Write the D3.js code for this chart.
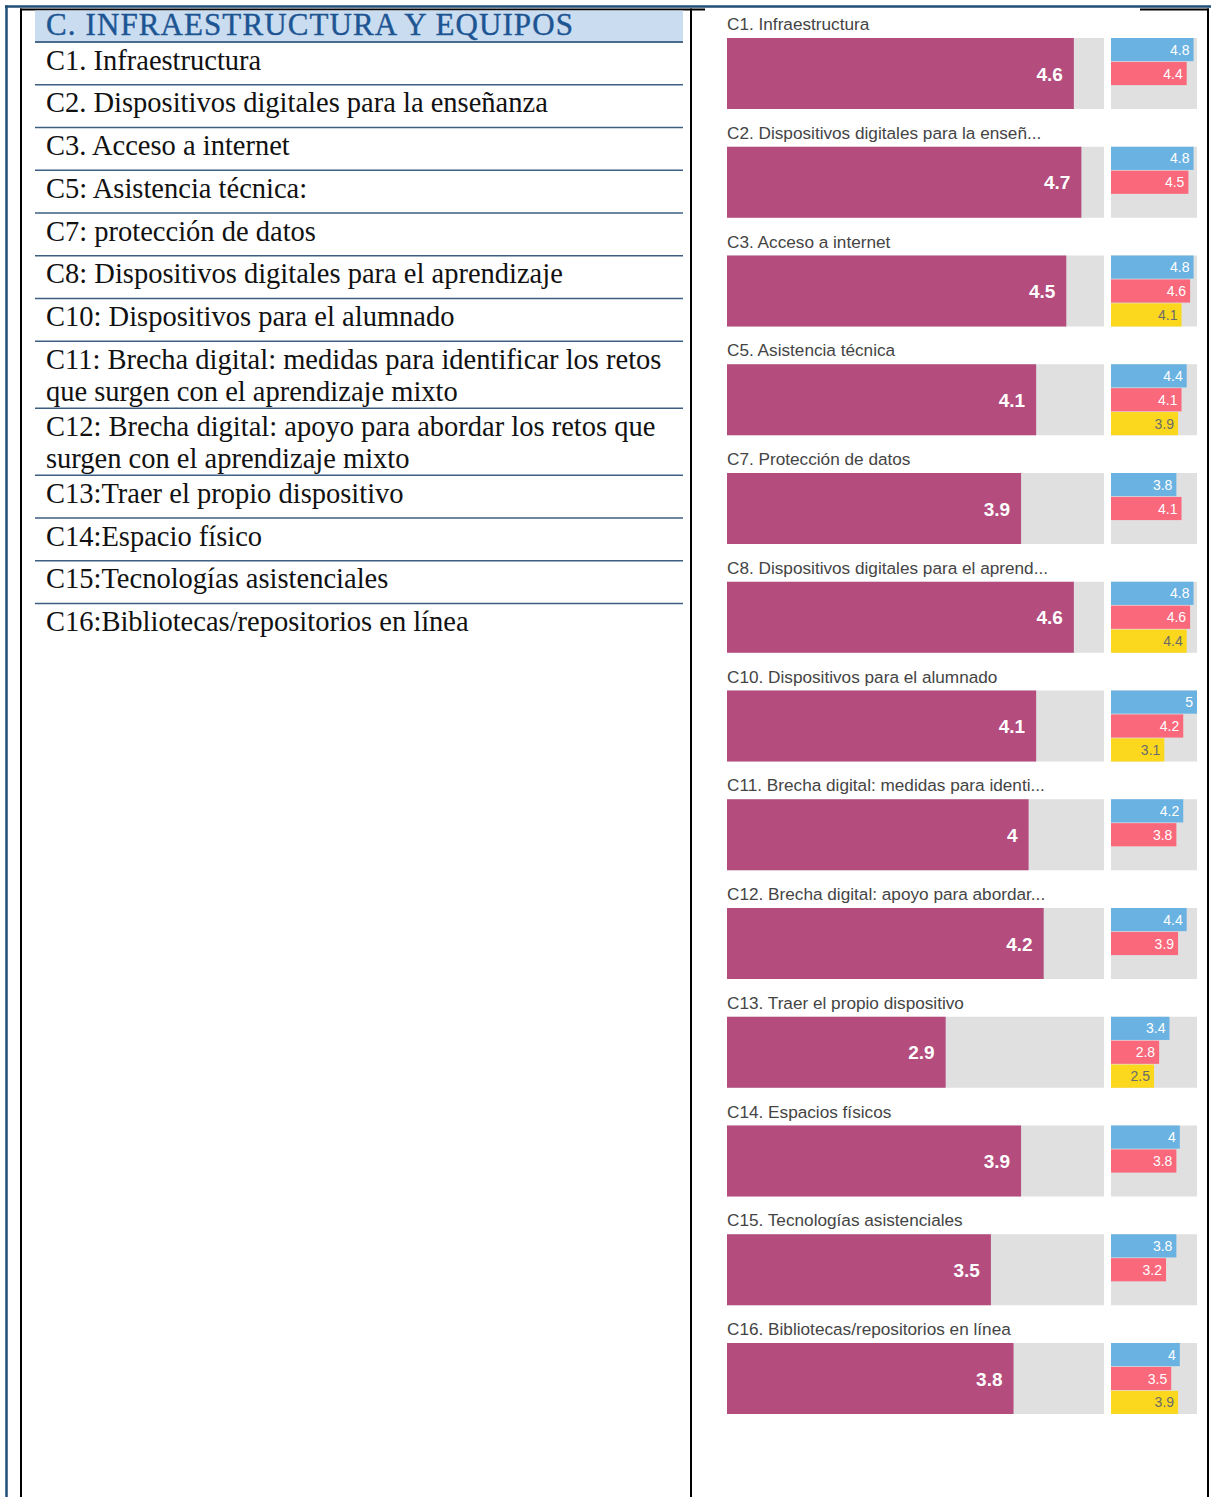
<!DOCTYPE html>
<html>
<head>
<meta charset="utf-8">
<script src="https://cdn.jsdelivr.net/npm/d3@7"></script>
<style>
  html, body { margin: 0; padding: 0; background: #fff; }
  svg { display: block; }
</style>
</head>
<body>
<div id="chart"></div>
<script>
// left table: header + row labels (each row = list of text lines)
const tableHeader = "C. INFRAESTRUCTURA Y EQUIPOS";
const tableRows = [
  ["C1. Infraestructura"],
  ["C2. Dispositivos digitales para la enseñanza"],
  ["C3. Acceso a internet"],
  ["C5: Asistencia técnica:"],
  ["C7: protección de datos"],
  ["C8: Dispositivos digitales para el aprendizaje"],
  ["C10: Dispositivos para el alumnado"],
  ["C11: Brecha digital: medidas para identificar los retos", "que surgen con el aprendizaje mixto"],
  ["C12: Brecha digital: apoyo para abordar los retos que", "surgen con el aprendizaje mixto"],
  ["C13:Traer el propio dispositivo"],
  ["C14:Espacio físico"],
  ["C15:Tecnologías asistenciales"],
  ["C16:Bibliotecas/repositorios en línea"],
];

// right panel: one small chart per item
const chartTitles = [
  "C1. Infraestructura",
  "C2. Dispositivos digitales para la enseñ...",
  "C3. Acceso a internet",
  "C5. Asistencia técnica",
  "C7. Protección de datos",
  "C8. Dispositivos digitales para el aprend...",
  "C10. Dispositivos para el alumnado",
  "C11. Brecha digital: medidas para identi...",
  "C12. Brecha digital: apoyo para abordar...",
  "C13. Traer el propio dispositivo",
  "C14. Espacios físicos",
  "C15. Tecnologías asistenciales",
  "C16. Bibliotecas/repositorios en línea",
];
const overallValues = [4.6, 4.7, 4.5, 4.1, 3.9, 4.6, 4.1, 4.0, 4.2, 2.9, 3.9, 3.5, 3.8];
const blueValues    = [4.8, 4.8, 4.8, 4.4, 3.8, 4.8, 5.0, 4.2, 4.4, 3.4, 4.0, 3.8, 4.0];
const redValues     = [4.4, 4.5, 4.6, 4.1, 4.1, 4.6, 4.2, 3.8, 3.9, 2.8, 3.8, 3.2, 3.5];
const yellowValues  = [null, null, 4.1, 3.9, null, 4.4, 3.1, null, null, 2.5, null, null, 3.9];

const W = 1216, H = 1497;
const mainColor = "#b44c7e";
const trackColor = "#e0e0e0";
const groupColors = { blue: "#6ab2e2", red: "#f9687b", yellow: "#fbd81e" };
const navy = "#1f4e79";

const svg = d3.select("#chart").append("svg").attr("width", W).attr("height", H);

// ---- frame lines ----
const frame = svg.append("g");
frame.append("line").attr("x1", 5).attr("x2", 1211).attr("y1", 6.5).attr("y2", 6.5)
  .attr("stroke", navy).attr("stroke-width", 2.5);
frame.append("line").attr("x1", 6.5).attr("x2", 6.5).attr("y1", 5.5).attr("y2", H)
  .attr("stroke", navy).attr("stroke-width", 2.5);
[[20, 705], [1140, 1209]].forEach(([a, b]) => {
  frame.append("line").attr("x1", a).attr("x2", b).attr("y1", 9.5).attr("y2", 9.5)
    .attr("stroke", "#000").attr("stroke-width", 2);
});
[21, 691, 1208].forEach((x) => {
  frame.append("line").attr("x1", x).attr("x2", x).attr("y1", 8.5).attr("y2", H)
    .attr("stroke", "#000").attr("stroke-width", 2);
});

// ---- left table ----
const table = svg.append("g").attr("font-family", "'Liberation Serif', 'Times New Roman', serif");
const tableX0 = 35, tableX1 = 683, textX = 46;
table.append("rect").attr("x", tableX0).attr("y", 10.5).attr("width", tableX1 - tableX0).attr("height", 31)
  .attr("fill", "#c9dcf0");
table.append("text").attr("x", textX).attr("y", 35).attr("font-size", 31)
  .attr("letter-spacing", 1.1).attr("fill", "#1d5593")
  .attr("stroke", "#1d5593").attr("stroke-width", 0.4).text(tableHeader);

const lineH = 32.5, singleRow = 42.75, doubleRow = 67;
let rowTop = 42;
const rowPositions = tableRows.map((lines) => {
  const top = rowTop;
  rowTop += lines.length === 1 ? singleRow : doubleRow;
  return { lines, top };
});
table.append("line").attr("x1", tableX0).attr("x2", tableX1).attr("y1", 42).attr("y2", 42)
  .attr("stroke", "#4a6b8c").attr("stroke-width", 2);
rowPositions.forEach((r, i) => {
  const bottom = r.top + (r.lines.length === 1 ? singleRow : doubleRow);
  if (i < rowPositions.length - 1) {
    table.append("line").attr("x1", tableX0).attr("x2", tableX1).attr("y1", bottom).attr("y2", bottom)
      .attr("stroke", "#3d5f82").attr("stroke-width", 1.6);
  }
  r.lines.forEach((t, j) => {
    table.append("text").attr("x", textX).attr("y", r.top + 27.5 + j * lineH)
      .attr("font-size", 28.5).attr("fill", "#111").attr("letter-spacing", 0).text(t);
  });
});

// ---- right small multiples ----
const right = svg.append("g").attr("font-family", "'Liberation Sans', Arial, sans-serif");
const xMain = d3.scaleLinear().domain([0, 5]).range([727, 1104]);
const xSmall = d3.scaleLinear().domain([0, 5]).range([1111, 1197]);
const yTop = d3.scaleLinear().domain([0, chartTitles.length - 1]).range([38, 1343]);
const barH = 71;
const ySub = d3.scaleBand().domain(["blue", "red", "yellow"]).range([0, barH]).paddingInner(0.03);

chartTitles.forEach((title, i) => {
  const g = right.append("g").attr("transform", `translate(0,${yTop(i)})`);
  g.append("text").attr("x", 727).attr("y", -8).attr("font-size", 17.2).attr("fill", "#444").text(title);

  g.append("rect").attr("x", xMain(0)).attr("y", 0).attr("width", xMain(5) - xMain(0)).attr("height", barH)
    .attr("fill", trackColor);
  g.append("rect").attr("x", xMain(0)).attr("y", 0).attr("width", xMain(overallValues[i]) - xMain(0)).attr("height", barH)
    .attr("fill", mainColor);
  g.append("text").attr("x", xMain(overallValues[i]) - 11).attr("y", barH / 2 + 7)
    .attr("text-anchor", "end").attr("font-size", 19).attr("font-weight", "bold").attr("fill", "#fff")
    .text(d3.format("~g")(overallValues[i]));

  g.append("rect").attr("x", xSmall(0)).attr("y", 0).attr("width", xSmall(5) - xSmall(0)).attr("height", barH)
    .attr("fill", trackColor);
  const subs = [
    { key: "blue", v: blueValues[i] },
    { key: "red", v: redValues[i] },
    { key: "yellow", v: yellowValues[i] },
  ].filter((d) => d.v != null);
  subs.forEach((d) => {
    g.append("rect").attr("x", xSmall(0)).attr("y", ySub(d.key)).attr("width", xSmall(d.v) - xSmall(0))
      .attr("height", ySub.bandwidth()).attr("fill", groupColors[d.key]);
    g.append("text").attr("x", xSmall(d.v) - 4).attr("y", ySub(d.key) + ySub.bandwidth() / 2 + 5)
      .attr("text-anchor", "end").attr("font-size", 14)
      .attr("fill", d.key === "yellow" ? "#6b6b6b" : "#fff")
      .text(d3.format("~g")(d.v));
  });
});
</script>
</body>
</html>
